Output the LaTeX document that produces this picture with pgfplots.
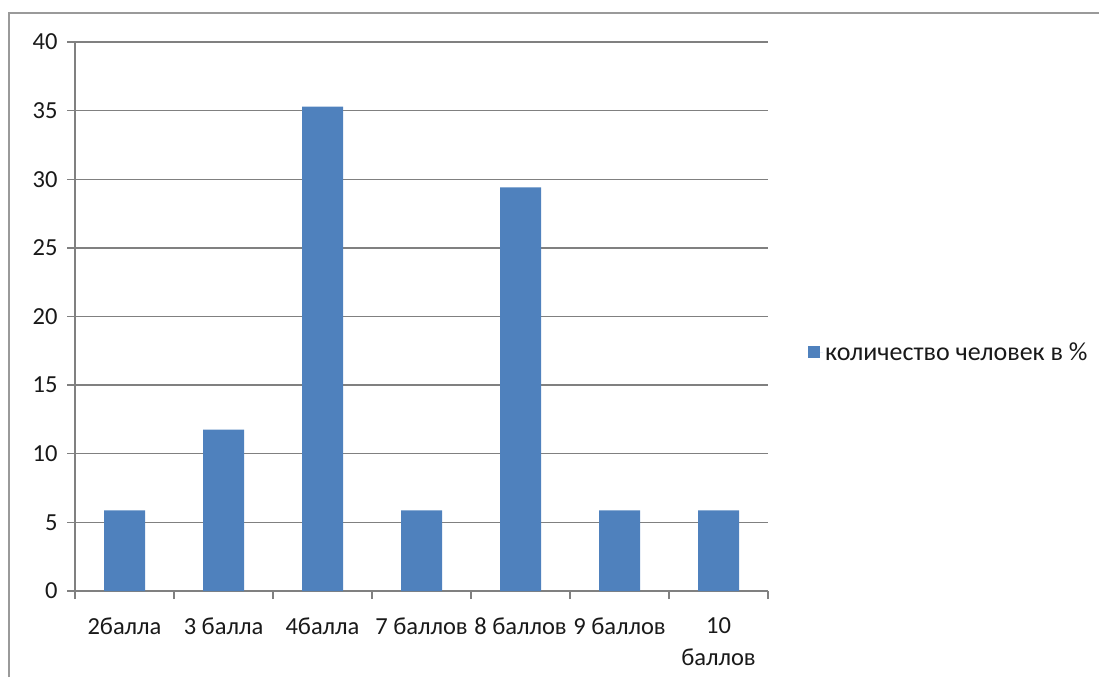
\documentclass[border=0pt]{standalone}
\usepackage{fontspec}
\setmainfont{Carlito}
\usepackage{pgfplots}
\pgfplotsset{compat=1.18}
\definecolor{barblue}{HTML}{4F81BD}
\definecolor{gridgray}{HTML}{808080}
\begin{document}
\begin{tikzpicture}[x=1pt,y=1pt]
\path[use as bounding box] (0,0) rectangle (1099,677);
\draw[gridgray!80, line width=1.6pt] (9,0) -- (9,664) -- (1099,664);
\begin{axis}[
  at={(75pt,86pt)}, anchor=south west,
  scale only axis, width=693pt, height=549pt,
  xmin=-0.5, xmax=6.5, ymin=0, ymax=40,
  axis lines*=left,
  axis line style={gridgray, line width=1.4pt},
  xtick={0,1,2,3,4,5,6},
  xticklabels={2балла, 3 балла, 4балла, 7 баллов, 8 баллов, 9 баллов, {10\\баллов}},
  minor xtick={-0.5,0.5,1.5,2.5,3.5,4.5,5.5,6.5},
  major x tick style={draw=none},
  minor x tick style={gridgray, line width=1.4pt},
  ytick={0,5,...,40},
  ymajorgrids,
  major grid style={gridgray, line width=1.4pt},
  y tick style={gridgray, line width=1.4pt},
  tick align=outside,
  major tick length=8pt, minor tick length=8pt,
  tick label style={font=\fontsize{24.5}{32}\selectfont, text=black!90},
  xticklabel style={align=center, yshift=-15pt, text depth=0pt},
  yticklabel style={xshift=-6pt},
  /pgf/number format/assume math mode=true,
  ybar, bar width=41pt,
  legend style={at={(1.0577,0.4353)}, anchor=west, draw=none, fill=none,
    font=\fontsize{26}{30}\selectfont, legend cell align=left,
    inner sep=0pt, text=black!90},
  legend image code/.code={\fill[barblue] (0pt,-6pt) rectangle (12pt,6pt);
    \path (0pt,0pt) -- (15pt,0pt);},
]
\addplot[fill=barblue, draw=none] coordinates {
(0,5.88) (1,11.76) (2,35.29) (3,5.88) (4,29.41) (5,5.88) (6,5.88)};
\addlegendentry{количество человек в \%}
\end{axis}
\end{tikzpicture}
\end{document}
